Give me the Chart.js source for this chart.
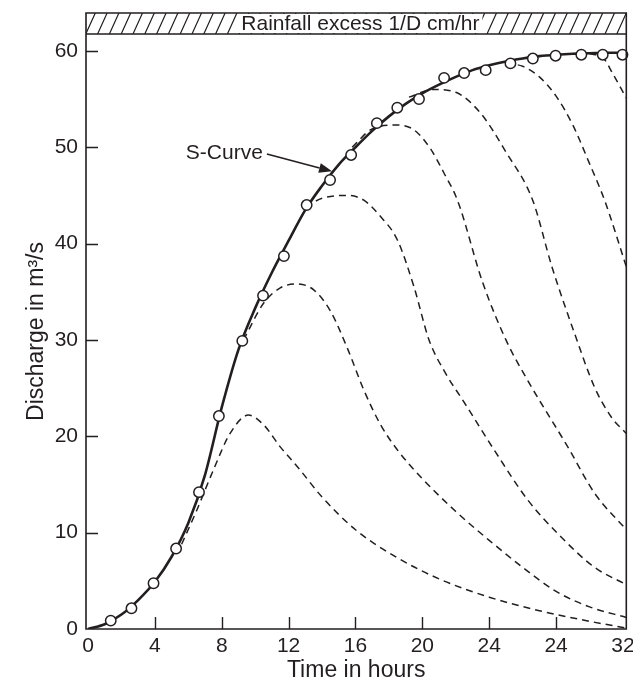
<!DOCTYPE html>
<html><head><meta charset="utf-8">
<script src="https://cdn.jsdelivr.net/npm/chart.js@4.4.1/dist/chart.umd.min.js"></script>
<style>html,body{margin:0;padding:0;background:#fff}canvas{display:block}</style>
</head><body>
<canvas id="c" width="633" height="685"></canvas>
<script>
// ---- tick labels ----
const xTickValues = [0, 4, 8, 12, 16, 20, 24, 28, 32];
const xTickLabels = ['0', '4', '8', '12', '16', '20', '24', '24', '32'];
const yTickValues = [0, 10, 20, 30, 40, 50, 60];

// ---- S-curve (solid line) ----
const sCurveTimes  = [0,1,2,3,4,5,6,7,8,9,10,11,12,13,14,15,16,17,18,19,20,21,22,23,24,25,26,27,28,29,30,31,32,32.2];
const sCurveValues = [0,0.5,1.5,3.0,4.9,7.5,11.0,16.0,23.0,29.0,33.3,37.0,40.3,43.5,46.0,48.2,50.0,51.7,53.2,54.5,55.6,56.5,57.3,58.0,58.5,58.9,59.2,59.45,59.6,59.7,59.75,59.8,59.8,59.8];

// ---- plotted S-curve points (circles) ----
const pointTimes  = [1.36,2.6,3.92,5.27,6.64,7.83,9.23,10.47,11.72,13.08,14.48,15.74,17.28,18.5,19.8,21.3,22.5,23.79,25.27,26.61,27.97,29.51,30.79,31.97];
const pointValues = [0.87,2.15,4.75,8.35,14.2,22.1,29.9,34.6,38.7,44.0,46.6,49.2,52.5,54.1,55.0,57.2,57.7,58.0,58.7,59.2,59.5,59.6,59.6,59.6];

// ---- dashed curves ----
const curve1Times  = [5.6,6.5,7.5,8.5,9.6,10.5,11.5,12.5,14,16,18.5,21,24,27,30,32.2];
const curve1Values = [8.8,12.3,16.5,20.3,22.2,21.2,18.9,16.9,13.7,10.3,7.4,5.2,3.3,1.9,0.8,0.1];
const curve2Times  = [9.3,10.5,11.5,12.5,13.5,14.5,15.5,16.5,17.5,18.5,20,22,24,26,28,30,32.2];
const curve2Values = [30,33.8,35.4,35.8,35.2,33.0,29.2,24.8,21.2,18.6,15.6,12.2,9.2,6.4,3.9,2.3,1.2];
const curve3Times  = [13,14,15.5,16.5,17.5,18.5,19.5,20.4,21.4,22.4,24.4,26.3,28.3,30.3,32.2];
const curve3Values = [43.8,44.7,45,44.5,42.8,40.4,35.5,30,26.5,23.8,18.3,13.4,9.55,6.4,4.6];
const curve4Times  = [15.8,17,18.5,19.5,20.5,21.3,22.1,23.6,25,26.3,28.7,30.3,32.2];
const curve4Values = [50,51.9,52.3,51.8,49.8,47.3,44.5,36,30,25.8,18.9,14.1,10.3];
const curve5Times  = [19.2,20.7,22,23.5,25,26.6,27.75,29.1,30.3,31.3,32.2];
const curve5Values = [55.2,56,55.7,53.5,49.5,44.5,37.6,30.7,25.1,22,20.3];
const curve6Times  = [25,26,27,28,29,30,30.9,32.2];
const curve6Values = [58.7,58.4,57.3,55.3,52.3,48.3,44.5,37.6];
const curve7Times  = [30,30.8,31.4,32.2];
const curve7Values = [59.7,59.3,57.6,55.1];

// ---- texts ----
const bandText = 'Rainfall excess 1/D cm/hr';
const xTitle = 'Time in hours';
const yTitle = 'Discharge in m\u00B3/s';
const curveLabel = 'S-Curve';
const curveLabelAnchor = [10.7, 49.3];  // data coords (end of label / start of arrow)
const curveArrowTip = [14.6, 47.5];

const INK = '#231f20';
const FONT = '"Liberation Sans", Arial, Helvetica, sans-serif';
const FS = 21;
const TFS = 23;

const zip = (t, v) => t.map((x, i) => ({x, y: v[i]}));
const dashed = (t, v) => ({
  data: zip(t, v), borderColor: INK, borderWidth: 1.5, borderDash: [7, 5],
  pointRadius: 0, fill: false, cubicInterpolationMode: 'monotone', order: 3
});

const decor = {
  id: 'decor',
  afterDraw(chart) {
    const {ctx, chartArea: ca, scales: {x, y}} = chart;
    const bandH = 21;
    const bTop = ca.top - bandH;
    ctx.save();
    // hatch
    ctx.save();
    ctx.beginPath(); ctx.rect(ca.left, bTop, ca.right - ca.left, bandH); ctx.clip();
    ctx.strokeStyle = INK; ctx.lineWidth = 1.2;
    ctx.beginPath();
    for (let xx = ca.left - 12; xx < ca.right + 12; xx += 11.8) {
      ctx.moveTo(xx, ca.top); ctx.lineTo(xx + 9.5, bTop);
    }
    ctx.stroke();
    // band text with white background
    ctx.font = FS + 'px ' + FONT;
    const tw = ctx.measureText(bandText).width;
    const tx = ca.left + (ca.right - ca.left) * 0.2875;
    ctx.fillStyle = '#fff';
    ctx.fillRect(tx - 3, bTop + 1, tw + 6, bandH - 2);
    ctx.fillStyle = INK; ctx.textBaseline = 'middle'; ctx.textAlign = 'left';
    ctx.fillText(bandText, tx, bTop + bandH / 2 + 1);
    ctx.restore();
    // frame
    ctx.strokeStyle = INK; ctx.lineWidth = 1.6;
    ctx.beginPath();
    ctx.rect(ca.left, bTop, ca.right - ca.left, ca.bottom - bTop);
    ctx.moveTo(ca.left, ca.top); ctx.lineTo(ca.right, ca.top);
    ctx.stroke();
    // inward ticks
    ctx.lineWidth = 1.4;
    ctx.beginPath();
    yTickValues.forEach(v => {
      if (v === 0) return;
      const py = Math.round(y.getPixelForValue(v)) + 0.5;
      ctx.moveTo(ca.left, py); ctx.lineTo(ca.left + 12, py);
    });
    xTickValues.forEach(v => {
      if (v === 0 || v === 32) return;
      const px = Math.round(x.getPixelForValue(v)) + 0.5;
      ctx.moveTo(px, ca.bottom); ctx.lineTo(px, ca.bottom - 12);
    });
    ctx.stroke();
    // S-curve label + arrow
    ctx.font = FS + 'px ' + FONT;
    ctx.fillStyle = INK; ctx.textAlign = 'right'; ctx.textBaseline = 'middle';
    const ax = x.getPixelForValue(curveLabelAnchor[0]), ay = y.getPixelForValue(curveLabelAnchor[1]);
    const bx = x.getPixelForValue(curveArrowTip[0]), by = y.getPixelForValue(curveArrowTip[1]);
    ctx.fillText(curveLabel, ax - 4, ay - 1);
    const ang = Math.atan2(by - ay, bx - ax);
    const hl = 13, hw = 5;
    const hx = bx - hl * Math.cos(ang), hy = by - hl * Math.sin(ang);
    ctx.lineWidth = 1.5;
    ctx.beginPath(); ctx.moveTo(ax, ay); ctx.lineTo(hx, hy); ctx.stroke();
    ctx.beginPath();
    ctx.moveTo(bx, by);
    ctx.lineTo(hx + hw * Math.sin(ang), hy - hw * Math.cos(ang));
    ctx.lineTo(hx - hw * Math.sin(ang), hy + hw * Math.cos(ang));
    ctx.closePath(); ctx.fill();
    ctx.restore();
  }
};

new Chart(document.getElementById('c'), {
  type: 'line',
  data: {
    datasets: [
      dashed(curve1Times, curve1Values),
      dashed(curve2Times, curve2Values),
      dashed(curve3Times, curve3Values),
      dashed(curve4Times, curve4Values),
      dashed(curve5Times, curve5Values),
      dashed(curve6Times, curve6Values),
      dashed(curve7Times, curve7Values),
      { data: zip(sCurveTimes, sCurveValues), borderColor: INK, borderWidth: 2.6,
        pointRadius: 0, cubicInterpolationMode: 'monotone', order: 2 },
      { data: zip(pointTimes, pointValues), showLine: false, pointRadius: 5.2,
        pointBackgroundColor: '#fff', pointBorderColor: INK, pointBorderWidth: 1.5,
        order: 1, clip: false }
    ]
  },
  options: {
    responsive: false, animation: false, devicePixelRatio: 1,
    layout: { padding: { top: 34, right: 1, left: 0, bottom: 0 } },
    plugins: { legend: { display: false }, tooltip: { enabled: false } },
    scales: {
      x: {
        type: 'linear', min: -0.12, max: 32.2,
        grid: { display: false, drawTicks: false }, border: { display: false },
        afterBuildTicks: s => { s.ticks = xTickValues.map(v => ({value: v})); },
        ticks: { color: INK, font: { family: FONT, size: FS }, padding: 5, maxRotation: 0,
                 autoSkip: false, callback: (v, i) => xTickLabels[i] },
        title: { display: true, text: xTitle, color: INK, font: { family: FONT, size: TFS }, padding: { top: 0, bottom: 1 } },
        afterFit: s => { s.height = 56; s.paddingLeft = 0; s.paddingRight = 0; }
      },
      y: {
        type: 'linear', min: 0, max: 61.75,
        grid: { display: false, drawTicks: false }, border: { display: false },
        afterBuildTicks: s => { s.ticks = yTickValues.map(v => ({value: v})); },
        ticks: { color: INK, font: { family: FONT, size: FS }, padding: 8, autoSkip: false },
        title: { display: true, text: yTitle, color: INK, font: { family: FONT, size: TFS }, padding: { top: 23, bottom: 0 } },
        afterFit: s => { s.width = 86; s.paddingTop = 0; s.paddingBottom = 0; }
      }
    }
  },
  plugins: [decor]
});
</script>
</body></html>
